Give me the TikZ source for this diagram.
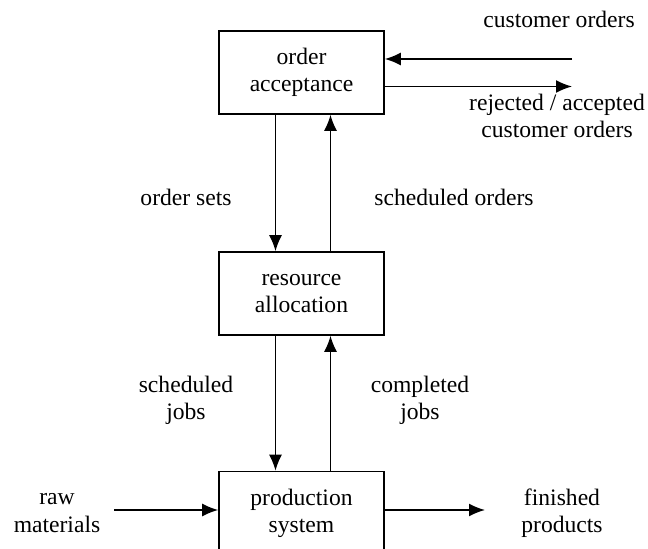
\documentclass[tikz,border=0pt]{standalone}
\usepackage{fontspec}
\setmainfont{Liberation Serif}
\usetikzlibrary{arrows.meta}
\tikzstyle{block}=[draw,rectangle,minimum width=82.5pt,minimum height=41.5pt,align=center,inner sep=2pt]
\tikzstyle{txt}=[align=center,inner sep=1pt]

\begin{document}
\begin{tikzpicture}[x=0.5pt,y=-0.5pt,line width=0.8pt,>={Latex[length=8pt,width=6.5pt]},font=\fontsize{11.8}{13.6}\selectfont]
    \useasboundingbox (0,0) rectangle (648,549);
    \clip (0,0) rectangle (648,549);
    % boxes
    \node[block] (oa) at (301.5,72.5)  {order\\acceptance};
    \node[block] (ra) at (301.5,293.5) {resource\\allocation};
    \node[block] (ps) at (301.5,513)   {production\\system};
    % free ends
    \coordinate (co) at (572,59);
    \coordinate (ro) at (572,86.5);
    \coordinate (rm) at (114,510);
    \coordinate (fp) at (485,510);
    % labels
    \node[txt] (lco) at (559,19)  {customer orders};
    \node[txt] (lro) at (557,116) {rejected / accepted\\customer orders};
    \node[txt] (los) at (186,197) {order sets};
    \node[txt] (lso) at (454,197) {scheduled orders};
    \node[txt] (lsj) at (186,400) {scheduled\\jobs};
    \node[txt] (lcj) at (420,400) {completed\\jobs};
    \node[txt] (lrm) at (57,513)  {raw\\materials};
    \node[txt] (lfp) at (562,513) {finished\\products};
    % connectors
    \draw[->] (co) -- (co -| oa.east);
    \draw[->] (oa.east |- ro) -- (ro);
    \draw[->] ([xshift=-13pt]oa.south) -- ([xshift=-13pt]ra.north);
    \draw[->] ([xshift=14.5pt]ra.north) -- ([xshift=14.5pt]oa.south);
    \draw[->] ([xshift=-13pt]ra.south) -- ([xshift=-13pt]ps.north);
    \draw[->] ([xshift=14.5pt]ps.north) -- ([xshift=14.5pt]ra.south);
    \draw[->] (rm) -- (rm -| ps.west);
    \draw[->] (ps.east |- rm) -- (fp);
\end{tikzpicture}
\end{document}
